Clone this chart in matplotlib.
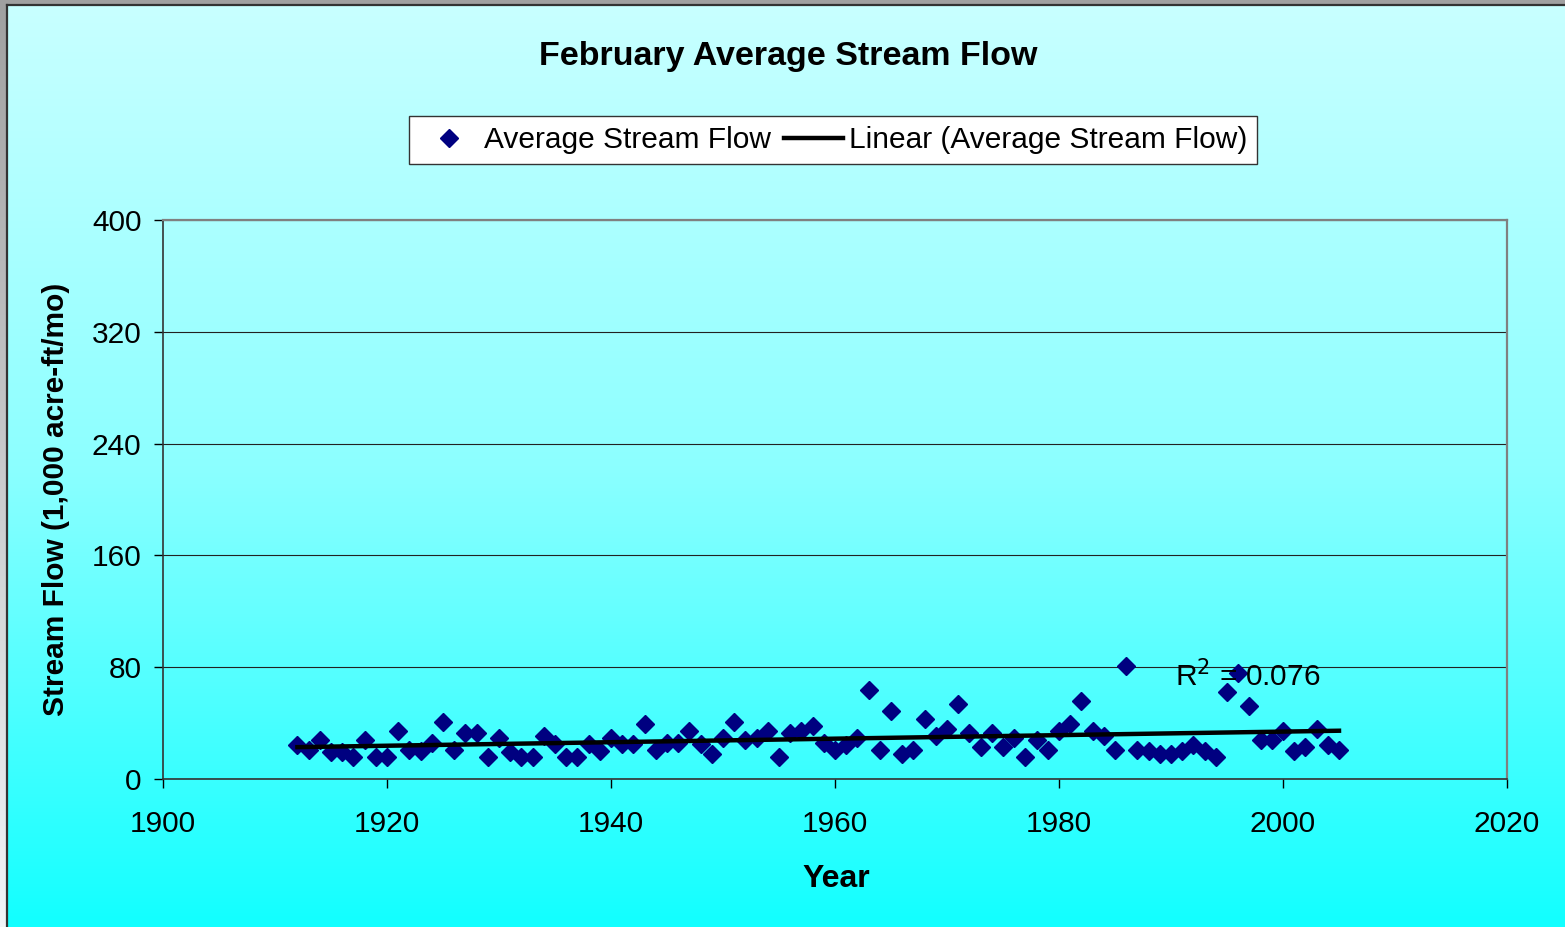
import numpy as np
import matplotlib
matplotlib.use("Agg")
import matplotlib.pyplot as plt
from matplotlib.colors import LinearSegmentedColormap

plt.rcParams['font.family'] = ['Liberation Sans', 'DejaVu Sans']

years = list(range(1912, 2006))
flow = [24, 21, 28, 19, 19, 16, 28, 16, 16, 34,
        21, 20, 26, 41, 21, 33, 33, 16, 29, 19,
        16, 16, 31, 25, 16, 16, 25, 20, 29, 25,
        25, 39, 21, 26, 26, 34, 25, 18, 29, 41,
        28, 29, 34, 16, 33, 34, 38, 26, 21, 24,
        29, 64, 21, 49, 18, 21, 43, 31, 36, 54,
        33, 23, 33, 23, 29, 16, 28, 21, 34, 39,
        56, 34, 31, 21, 81, 21, 20, 18, 18, 20,
        24, 20, 16, 62, 76, 52, 28, 28, 34, 20,
        23, 36, 24, 21]
y_ticks = [0, 80, 160, 240, 320, 400]
x_ticks = [1900, 1920, 1940, 1960, 1980, 2000, 2020]
title = "February Average Stream Flow"
series_name = "Average Stream Flow"
trend_name = "Linear (Average Stream Flow)"
r2_label = "0.076"

W, H = 1565, 927
FS = 21.5
fig = plt.figure(figsize=(W / 100, H / 100), dpi=100)
fig.patch.set_facecolor('#A8A8A8')

# outer grey strip gradient
bg0 = fig.add_axes([0, 0, 1, 1], zorder=-3)
bg0.imshow(np.linspace(0, 1, 256).reshape(-1, 1), aspect='auto',
           cmap=LinearSegmentedColormap.from_list('g', ['#A0A0A0', '#F2F5F8']),
           extent=[0, 1, 0, 1], origin='upper')
bg0.axis('off')

# cyan chart area gradient
x0 = 7 / W
y1 = 1 - 5 / H
bg = fig.add_axes([x0, 0, 1 - x0, y1], zorder=-2)
bg.imshow(np.linspace(0, 1, 256).reshape(-1, 1), aspect='auto',
          cmap=LinearSegmentedColormap.from_list('c', ['#C8FFFF', '#8CFFFF', '#12FFFF']),
          extent=[0, 1, 0, 1], origin='upper')
bg.set_xlim(0, 1); bg.set_ylim(0, 1)
bg.axis('off')
fig.add_artist(plt.Line2D([x0 - 0.5 / W, x0 - 0.5 / W], [0, y1], color='#333333', lw=1.6))
fig.add_artist(plt.Line2D([x0, 1], [y1, y1], color='#333333', lw=1.6))

left, right, top, bottom = 163, 1507, 220, 779
ax = fig.add_axes([left / W, 1 - bottom / H, (right - left) / W, (bottom - top) / H])
ax.set_facecolor('none')
ax.set_xlim(1900, 2020)
ax.set_ylim(0, 400)
ax.set_xticks(x_ticks)
ax.set_yticks(y_ticks)
ax.tick_params(axis='both', labelsize=FS, direction='out', length=6.5, width=1, colors='black')
ax.tick_params(axis='y', pad=9)
ax.tick_params(axis='x', pad=16)
for s in ['top', 'right']:
    ax.spines[s].set_color('#808080')
    ax.spines[s].set_linewidth(1.6)
for s in ['left', 'bottom']:
    ax.spines[s].set_color('#333333')
    ax.spines[s].set_linewidth(1.2)
ax.yaxis.grid(True, color='#222222', lw=0.8)
ax.set_axisbelow(True)

yr = np.array(years, dtype=float)
fl = np.array(flow, dtype=float)
sc, = ax.plot(yr, fl, 'D', color='#000080', ms=9.5, mec='#000080', zorder=3, label=series_name)
p = np.polyfit(yr, fl, 1)
tr, = ax.plot(yr, np.polyval(p, yr), color='black', lw=3.2, zorder=4, label=trend_name)

ax.text(1990.4, 66, r'R$^2$ = ' + r2_label, fontsize=FS, ha='left', va='baseline', zorder=5)

ax.set_xlabel('Year', fontsize=23, fontweight='bold')
ax.xaxis.set_label_coords(0.5007, -0.152)
ax.set_ylabel('Stream Flow (1,000 acre-ft/mo)', fontsize=FS, fontweight='bold')
ax.yaxis.set_label_coords(-0.0692, 0.5)

fig.text(788 / W, 1 - 57 / H, title, fontsize=24.5, fontweight='bold', ha='center', va='center')

leg = fig.legend(handles=[sc, tr], labels=[series_name, trend_name], loc='center',
                 bbox_to_anchor=(833 / W, 1 - 140 / H), ncol=2, fontsize=FS,
                 frameon=True, fancybox=False, edgecolor='#333333', framealpha=1,
                 handlelength=2.0, columnspacing=0.43, handletextpad=0.17, borderpad=0.35)
leg.get_frame().set_linewidth(1)

fig.savefig('out.png', dpi=100)
